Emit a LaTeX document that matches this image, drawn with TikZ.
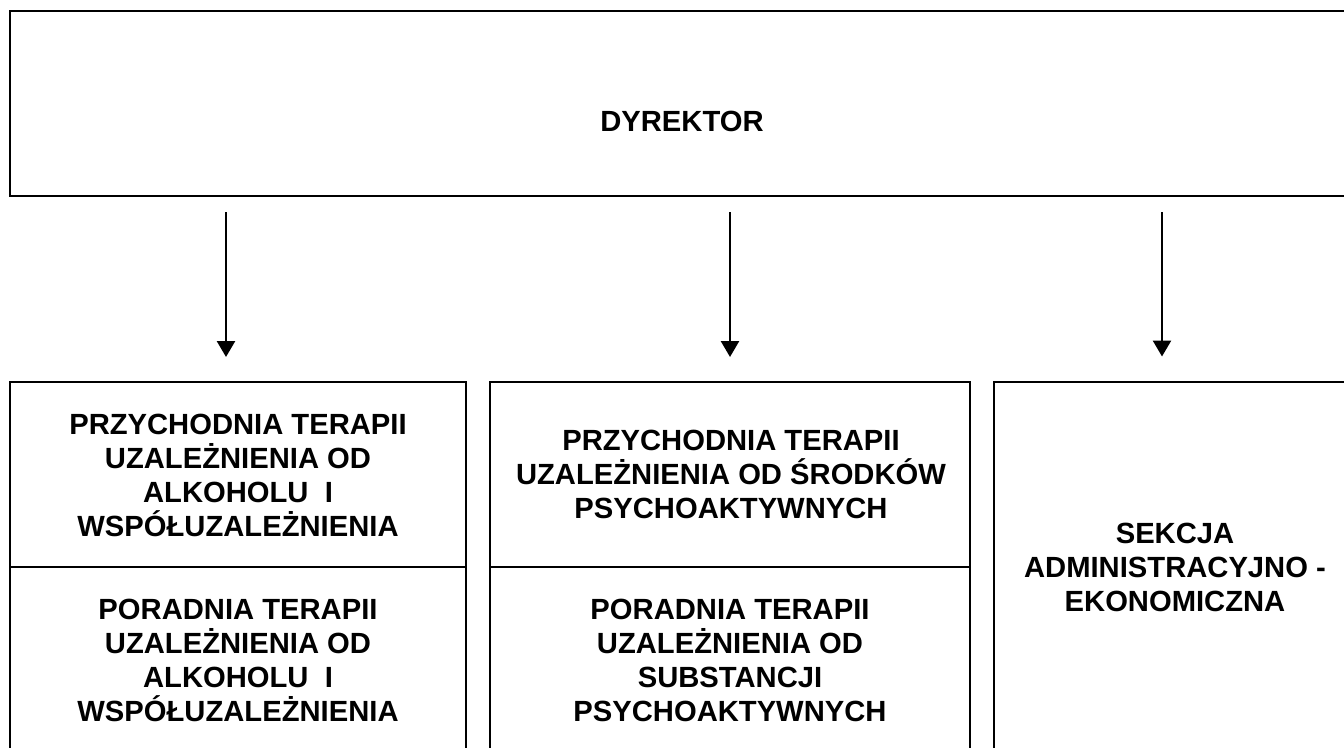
\documentclass[tikz,border=0pt]{standalone}
\usepackage{fontspec}
\setmainfont{Liberation Sans}
\usetikzlibrary{arrows.meta}
\tikzset{
  cell/.style={draw=black, line width=2.6pt, inner sep=0pt, outer sep=0pt},
  txt/.style={align=center, inner sep=0pt, font=\fontsize{29.2}{34}\selectfont\bfseries},
  arr/.style={line width=2.6pt, -{Triangle[width=18pt,length=16pt]}}
}
\begin{document}
\begin{tikzpicture}[x=1pt,y=-1pt]
\useasboundingbox (0,0) rectangle (1344,747);
\clip (0,0) rectangle (1344,747);
% top box
\node[cell, minimum width=1354pt, minimum height=185pt] (dir) at (687,103.5) {};
\node[txt] (dirt) at (682,121) {DYREKTOR};
% left column
\node[cell, minimum width=456pt, minimum height=185pt] (la) at (238,474.5) {};
\node[cell, minimum width=456pt, minimum height=188pt] (lb) at (238,661) {};
\node[txt] (lat) at (238,475) {PRZYCHODNIA TERAPII\\UZALEŻNIENIA OD\\ALKOHOLU\ \ I\\WSPÓŁUZALEŻNIENIA};
\node[txt] (lbt) at (238,660) {PORADNIA TERAPII\\UZALEŻNIENIA OD\\ALKOHOLU\ \ I\\WSPÓŁUZALEŻNIENIA};
% middle column
\node[cell, minimum width=480pt, minimum height=185pt] (ma) at (730,474.5) {};
\node[cell, minimum width=480pt, minimum height=188pt] (mb) at (730,661) {};
\node[txt] (mat) at (731,474) {PRZYCHODNIA TERAPII\\UZALEŻNIENIA OD ŚRODKÓW\\PSYCHOAKTYWNYCH};
\node[txt] (mbt) at (730,660) {PORADNIA TERAPII\\UZALEŻNIENIA OD\\SUBSTANCJI\\PSYCHOAKTYWNYCH};
% right column
\node[cell, minimum width=362pt, minimum height=373pt] (rb) at (1175,568.5) {};
\node[txt] (rbt) at (1175,567) {SEKCJA\\ADMINISTRACYJNO -\\EKONOMICZNA};
% arrows
\coordinate (p1) at (226,0);
\coordinate (p2) at (730,0);
\coordinate (p3) at (1162,0);
\draw[arr, shorten <=16pt, shorten >=25pt] (dir.south -| p1) -- (p1 |- la.north);
\draw[arr, shorten <=16pt, shorten >=25pt] (dir.south -| p2) -- (p2 |- ma.north);
\draw[arr, shorten <=16pt, shorten >=25.5pt] (dir.south -| p3) -- (p3 |- rb.north);
\end{tikzpicture}
\end{document}
